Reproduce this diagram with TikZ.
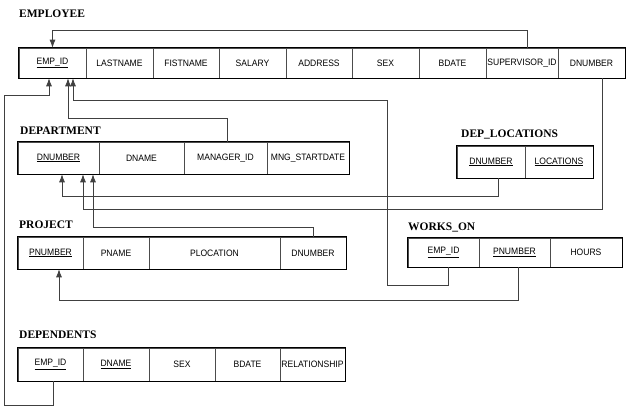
\documentclass[tikz,border=0pt]{standalone}
\usepackage{fontspec}
\setmainfont{Liberation Serif}
\newfontfamily\cellfont{Liberation Sans}[FakeStretch=0.92]
\usetikzlibrary{arrows.meta}
\tikzset{
  cell/.style={draw=black!70, line width=0.6pt, inner sep=0pt, minimum height=#1,
    font=\cellfont\fontsize{9.3}{11}\selectfont},
  title/.style={anchor=base west, inner sep=0pt, font=\rmfamily\bfseries\fontsize{11.5}{13}\selectfont},
  frame/.style={draw=black, line width=1.1pt},
  conn/.style={draw=black!75, line width=0.8pt},
  arr/.style={conn, -{Latex[length=8pt,width=6pt]}}
}
\begin{document}
\begin{tikzpicture}[x=1pt,y=-1pt]
\useasboundingbox (0,0) rectangle (629,410);

% titles
\node[title] (tE) at (19,17.3) {EMPLOYEE};
\node[title] (tD) at (20,134) {DEPARTMENT};
\node[title] (tL) at (461,137) {DEP\_LOCATIONS};
\node[title] (tP) at (19,228) {PROJECT};
\node[title] (tW) at (408,230) {WORKS\_ON};
\node[title] (tR) at (19,338) {DEPENDENTS};

% EMPLOYEE
\node[cell=30pt, minimum width=67pt] (e1) at (52.5,63) {\underline{EMP\_ID}};
\node[cell=30pt, minimum width=67pt] (e2) at (119.5,63) {LASTNAME};
\node[cell=30pt, minimum width=66pt] (e3) at (186,63) {FISTNAME};
\node[cell=30pt, minimum width=67pt] (e4) at (252.5,63) {SALARY};
\node[cell=30pt, minimum width=66pt] (e5) at (319,63) {ADDRESS};
\node[cell=30pt, minimum width=67pt] (e6) at (385.5,63) {SEX};
\node[cell=30pt, minimum width=67pt] (e7) at (452.5,63) {BDATE};
\node[cell=30pt, minimum width=72pt] (e8) at (522,63) {SUPERVISOR\_ID};
\node[cell=30pt, minimum width=67pt] (e9) at (591.5,63) {DNUMBER};
\draw[frame] (e1.north west) rectangle (e9.south east);

% DEPARTMENT
\node[cell=32pt, minimum width=81pt] (dp1) at (58.5,158) {\underline{DNUMBER}};
\node[cell=32pt, minimum width=85pt] (dp2) at (141.5,158) {DNAME};
\node[cell=32pt, minimum width=83pt] (dp3) at (225.5,158) {MANAGER\_ID};
\node[cell=32pt, minimum width=82pt] (dp4) at (308,158) {MNG\_STARTDATE};
\draw[frame] (dp1.north west) rectangle (dp4.south east);

% DEP_LOCATIONS
\node[cell=32pt, minimum width=68pt] (dl1) at (491,162) {\underline{DNUMBER}};
\node[cell=32pt, minimum width=68pt] (dl2) at (559,162) {\underline{LOCATIONS}};
\draw[frame] (dl1.north west) rectangle (dl2.south east);

% PROJECT
\node[cell=32pt, minimum width=65pt] (p1) at (50.5,253) {\underline{PNUMBER}};
\node[cell=32pt, minimum width=66pt] (p2) at (116,253) {PNAME};
\node[cell=32pt, minimum width=131pt] (p3) at (214.5,253) {PLOCATION};
\node[cell=32pt, minimum width=66pt] (p4) at (313,253) {DNUMBER};
\draw[frame] (p1.north west) rectangle (p4.south east);

% WORKS_ON
\node[cell=29pt, minimum width=71pt] (w1) at (443.5,252.5) {\underline{EMP\_ID}};
\node[cell=29pt, minimum width=71pt] (w2) at (514.5,252.5) {\underline{PNUMBER}};
\node[cell=29pt, minimum width=72pt] (w3) at (586,252.5) {HOURS};
\draw[frame] (w1.north west) rectangle (w3.south east);

% DEPENDENTS
\node[cell=33pt, minimum width=65pt] (r1) at (50.5,364.5) {\underline{EMP\_ID}};
\node[cell=33pt, minimum width=66pt] (r2) at (116,364.5) {\underline{DNAME}};
\node[cell=33pt, minimum width=66pt] (r3) at (182,364.5) {SEX};
\node[cell=33pt, minimum width=65pt] (r4) at (247.5,364.5) {BDATE};
\node[cell=33pt, minimum width=65pt] (r5) at (312.5,364.5) {RELATIONSHIP};
\draw[frame] (r1.north west) rectangle (r5.south east);

% connectors
\draw[arr] ([xshift=5pt]e8.north) |- ([yshift=17pt]e1.north) -- (e1.north);
\draw[arr] ([xshift=2.5pt]r1.south) -- ++(0,24) -| (4,95) -| ([xshift=-3.5pt]e1.south);
\draw[arr] ([xshift=1.5pt]dp3.north) |- (68,118) -- ([xshift=15.5pt]e1.south);
\draw[arr] ([xshift=4.5pt]w1.south) |- (387,285) |- (73,100.5) -- ([xshift=20.5pt]e1.south);
\draw[arr] ([xshift=7pt]dl1.south) |- (62,196) -- ([xshift=3.5pt]dp1.south);
\draw[arr] ([xshift=11pt]e9.south) |- (83,209) -- ([xshift=24.5pt]dp1.south);
\draw[arr] (p4.north) |- (93,227) -- ([xshift=34.5pt]dp1.south);
\draw[arr] ([xshift=3.5pt]w2.south) |- (59,300) -- ([xshift=8.5pt]p1.south);
\end{tikzpicture}
\end{document}
